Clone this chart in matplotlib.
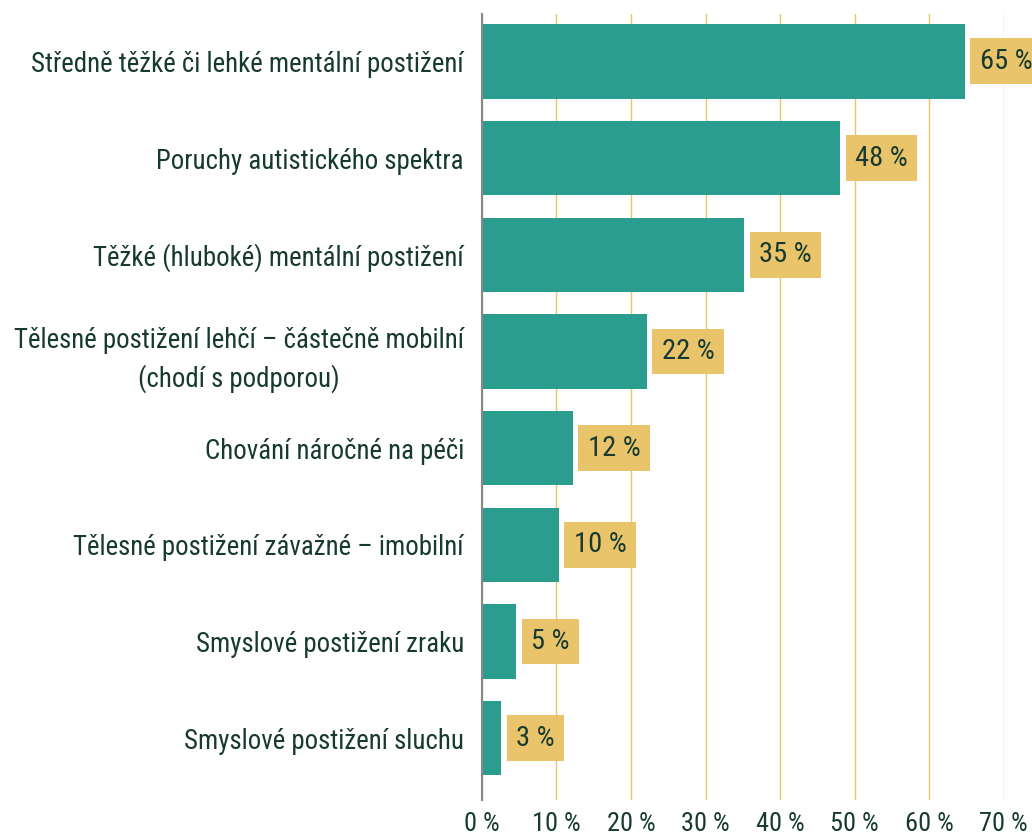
import matplotlib.pyplot as plt
import matplotlib.font_manager as fm

categories = [
    "Středně těžké či lehké mentální postižení",
    "Poruchy autistického spektra",
    "Těžké (hluboké) mentální postižení",
    "Tělesné postižení lehčí – částečně mobilní\n(chodí s podporou)",
    "Chování náročné na péči",
    "Tělesné postižení závažné – imobilní",
    "Smyslové postižení zraku",
    "Smyslové postižení sluchu",
]
values = [64.8, 48.1, 35.2, 22.1, 12.2, 10.3, 4.6, 2.6]
value_labels = ["65 %", "48 %", "35 %", "22 %", "12 %", "10 %", "5 %", "3 %"]
xticks = [0, 10, 20, 30, 40, 50, 60, 70]

teal = "#2a9d8f"
yellow = "#e9c46a"
text_col = "#173a30"

names = {f.name for f in fm.fontManager.ttflist}
wanted = ["Roboto Condensed", "Archivo Narrow", "Fira Sans Condensed",
          "Sofia Sans Condensed", "Roboto"]
fam = [n for n in wanted if n in names][:1]
plt.rcParams['font.family'] = fam + ['DejaVu Sans']

fig = plt.figure(figsize=(10.32, 8.39), dpi=100)
ax = fig.add_axes([0.467, 0.0465, 0.5055, 0.9368])

y = list(range(len(categories)))
ax.barh(y, values, height=0.77, color=teal, zorder=3)

for yi, v, lab in zip(y, values, value_labels):
    ax.text(v + 2.0, yi, lab, va='center', ha='left', fontsize=20.5, color=text_col,
            bbox=dict(boxstyle='square,pad=0.33', fc=yellow, ec='none'),
            zorder=4, clip_on=False)

ax.set_xlim(0, 70)
ax.set_ylim(7.64, -0.49)
ax.set_xticks(xticks)
ax.set_xticklabels([f"{t} %" for t in xticks], fontsize=19, color=text_col)
ax.set_yticks(y)
ax.set_yticklabels(categories, fontsize=19.4, color=text_col, multialignment='center',
                   linespacing=1.45)
ax.tick_params(axis='both', length=0)
ax.tick_params(axis='y', pad=13)
ax.tick_params(axis='x', pad=9)

ax.grid(axis='x', color=yellow, linewidth=1, zorder=0)
ax.grid(axis='y', visible=False)
for s in ['top', 'right', 'bottom']:
    ax.spines[s].set_visible(False)
ax.spines['left'].set_color('#888888')
ax.spines['left'].set_linewidth(1.5)
ax.spines['left'].set_zorder(5)

fig.savefig("out.png", dpi=100, facecolor='white')
